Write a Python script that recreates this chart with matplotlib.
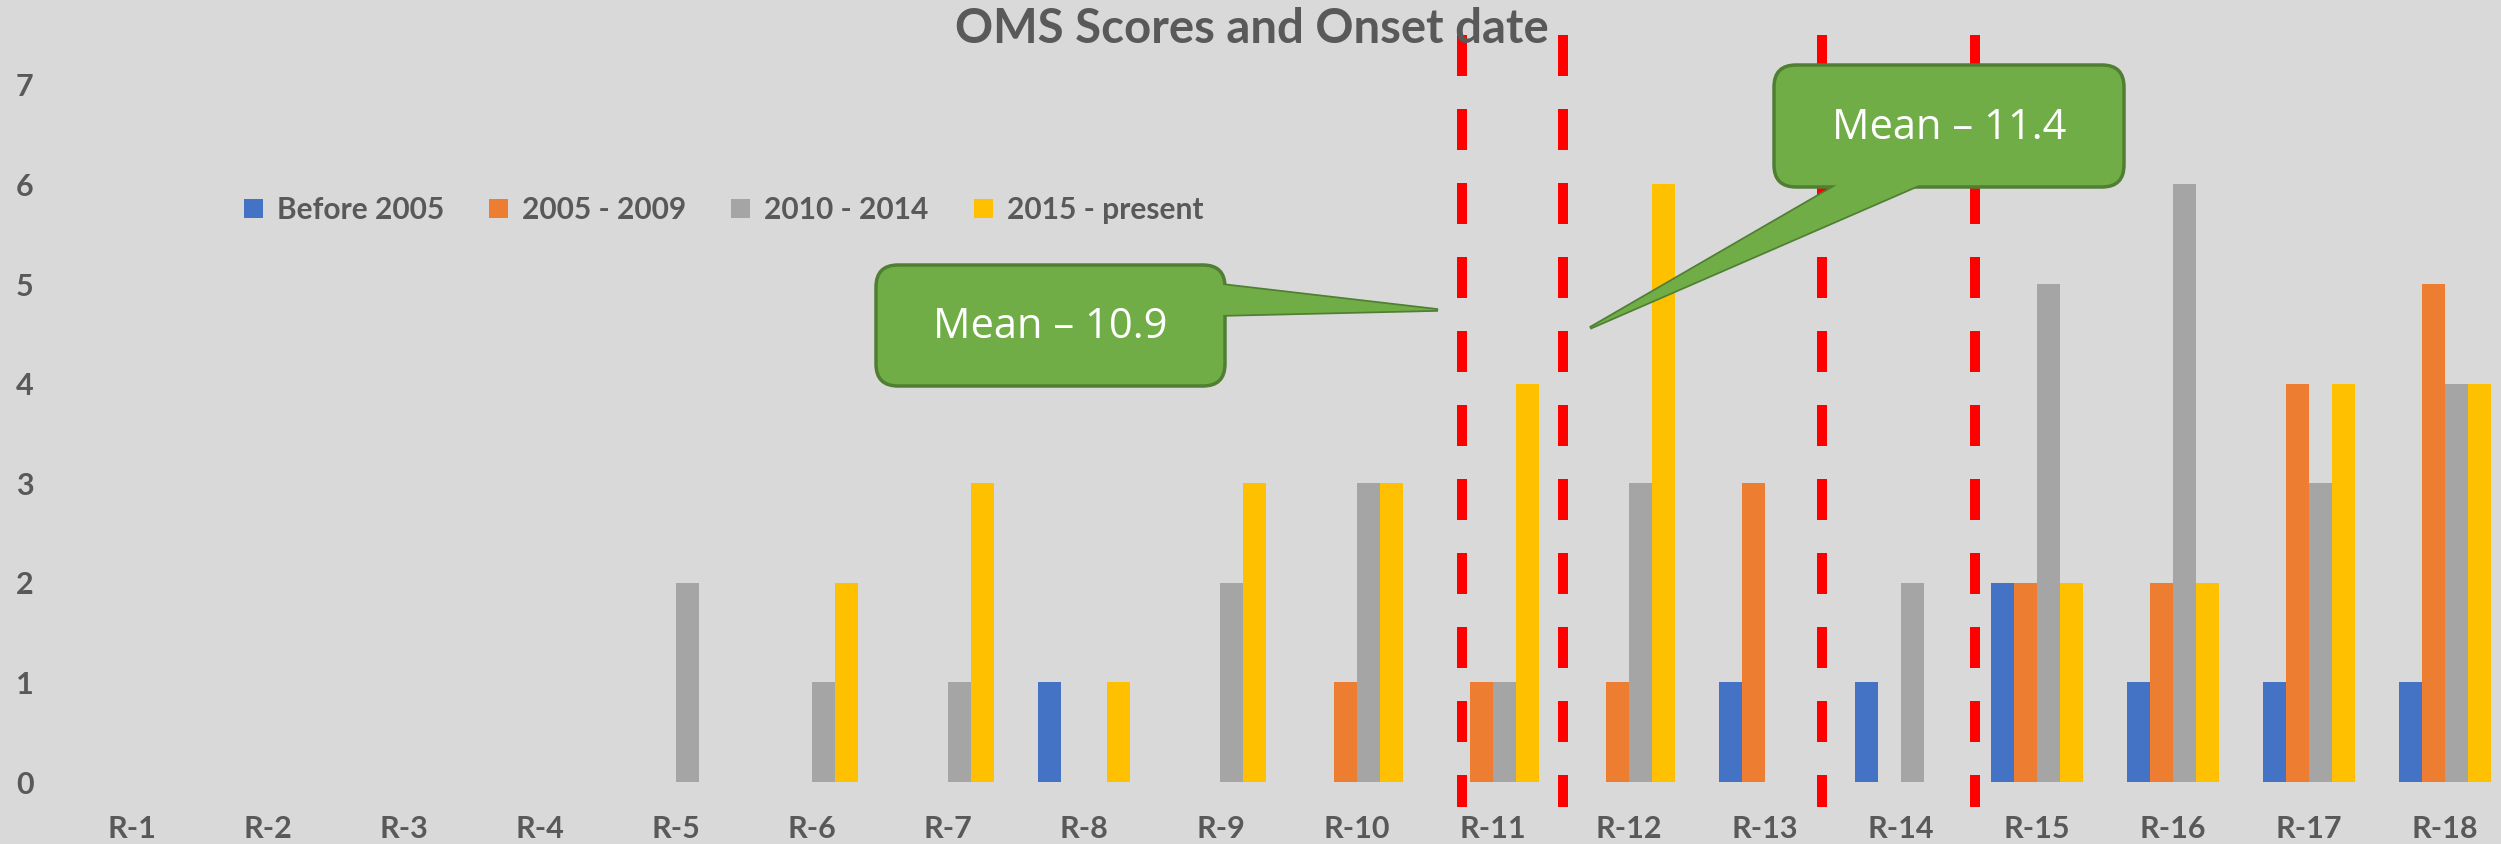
import matplotlib
matplotlib.use("Agg")
import matplotlib.pyplot as plt
from matplotlib.patches import FancyBboxPatch, Polygon, Patch
import numpy as np

# ---- data ----
categories = [f"R-{i}" for i in range(1, 19)]
series_names = ["Before 2005", "2005 - 2009", "2010 - 2014", "2015 - present"]
before_2005 = [0, 0, 0, 0, 0, 0, 0, 1, 0, 0, 0, 0, 1, 1, 2, 1, 1, 1]
y2005_2009 = [0, 0, 0, 0, 0, 0, 0, 0, 0, 1, 1, 1, 3, 0, 2, 2, 4, 5]
y2010_2014 = [0, 0, 0, 0, 2, 1, 1, 0, 2, 3, 1, 3, 0, 2, 5, 6, 3, 4]
y2015_present = [0, 0, 0, 0, 0, 2, 3, 1, 3, 3, 4, 6, 0, 0, 2, 2, 4, 4]
y_ticks = [0, 1, 2, 3, 4, 5, 6, 7]
mean_labels = ["Mean \u2013 10.9", "Mean \u2013 11.4"]
# red dashed separators (category-axis positions)
divider_x = [9.775, 10.517, 12.42, 13.545]

colors = ["#4472C4", "#ED7D31", "#A5A5A5", "#FFC000"]
txt_color = "#595959"
bg = "#D9D9D9"

W, H = 2501, 844
fig = plt.figure(figsize=(W / 100, H / 100), dpi=100, facecolor=bg)
ax = fig.add_axes([64 / W, 62 / H, 2449 / W, 747 / H])
ax.set_facecolor(bg)

x = np.arange(len(categories))
bw = 0.169
all_series = [before_2005, y2005_2009, y2010_2014, y2015_present]
for k, (vals, c, name) in enumerate(zip(all_series, colors, series_names)):
    ax.bar(x + (k - 1.5) * bw, vals, width=bw, color=c, linewidth=0, label=name, zorder=2)

ax.set_xlim(-0.5, len(categories) - 0.5)
ax.set_ylim(0, 7.5)
ax.set_xticks(x)
ax.set_xticklabels(categories)
ax.set_yticks(y_ticks)
ax.set_yticklabels([str(v) for v in y_ticks])
for s in ax.spines.values():
    s.set_visible(False)
ax.tick_params(axis="both", length=0, labelcolor=txt_color)
ax.tick_params(axis="x", pad=24)
ax.tick_params(axis="y", pad=22)
for lab in ax.get_xticklabels() + ax.get_yticklabels():
    lab.set_fontfamily("Lato")
    lab.set_fontweight("bold")
    lab.set_fontsize(22)

# title
fig.text(1252 / W, 1 - 29 / H, "OMS Scores and Onset date", ha="center", va="center",
         fontfamily="Lato", fontweight="bold", fontsize=34, color=txt_color, zorder=1)

# legend
handles = [Patch(facecolor=c, edgecolor="none") for c in colors]
leg = fig.legend(handles, series_names, loc="center left",
                 bbox_to_anchor=(244 / W, 1 - 210 / H), ncol=4, frameon=False,
                 handlelength=0.64, handleheight=0.57, handletextpad=0.47,
                 columnspacing=1.5, borderpad=0, borderaxespad=0,
                 prop={"family": "Lato", "weight": "bold", "size": 21.5})
for t in leg.get_texts():
    t.set_color(txt_color)

# red dashed lines
for dx in divider_x:
    ln, = ax.plot([dx, dx], [7.5, -0.25], color="#FF0000", linewidth=7.2,
                  solid_capstyle="butt", dash_capstyle="butt", clip_on=False, zorder=5)
    ln.set_dashes((4.1, 3.3))

# overlay for callouts (pixel coordinates)
ov = fig.add_axes([0, 0, 1, 1], zorder=10)
ov.set_xlim(0, W)
ov.set_ylim(H, 0)
ov.axis("off")
ov.patch.set_alpha(0)

fill = "#70AD47"
edge = "#507E32"

def callout(x0, y0, w, h, tail, text):
    tp = Polygon(tail, closed=True, facecolor=fill, edgecolor=edge, linewidth=2.5, zorder=1)
    ov.add_patch(tp)
    box = FancyBboxPatch((x0, y0), w, h, boxstyle="round,pad=0,rounding_size=22",
                         facecolor=fill, edgecolor=edge, linewidth=2.5, zorder=2)
    ov.add_patch(box)
    ov.add_patch(Polygon(tail, closed=True, facecolor=fill, edgecolor="none", zorder=3))
    ov.text(x0 + w / 2, y0 + h / 2 + 2, text, ha="center", va="center", color="white",
            fontfamily="Open Sans", fontsize=30, zorder=4)

callout(876, 265, 349, 121, [(1223, 285), (1438, 310), (1223, 315)], mean_labels[0])
callout(1774, 65, 350, 122, [(1837, 185), (1590, 328), (1919, 185)], mean_labels[1])

fig.savefig("out.png", dpi=100, facecolor=bg)
